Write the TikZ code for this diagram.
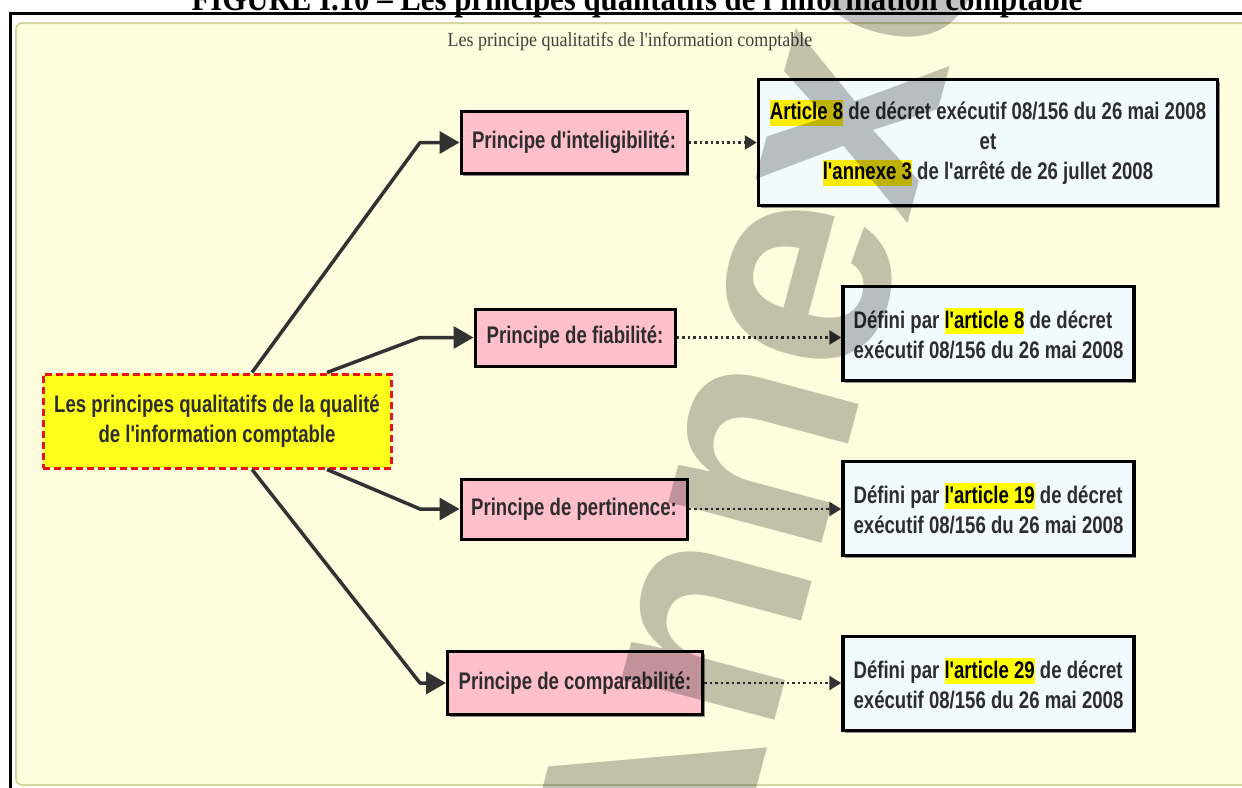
\documentclass[tikz,border=0pt]{standalone}
\usepackage{fontspec}
\setmainfont{Liberation Sans}
\newfontfamily\boxfont{Liberation Sans}[FakeStretch=0.775]
\newfontfamily\serifnar{Liberation Serif}[FakeStretch=0.9]
\newfontfamily\titlefont{Liberation Serif}[FakeStretch=0.88]
\usetikzlibrary{arrows.meta,shadows,calc}
\definecolor{cPanel}{RGB}{255,253,222}
\definecolor{cPanelBd}{RGB}{214,214,160}
\definecolor{cPink}{RGB}{255,192,203}
\definecolor{cBlue}{RGB}{240,250,255}
\definecolor{cRoot}{RGB}{255,255,30}
\definecolor{cRootBd}{RGB}{230,20,20}
\definecolor{cLine}{RGB}{50,50,50}
\definecolor{cTxt}{RGB}{45,45,45}
\definecolor{cHl}{RGB}{255,255,0}
\definecolor{cHlA}{RGB}{250,235,10}
\newcommand\hlt[2][cHl]{{\setlength\fboxsep{0pt}\colorbox{#1}{\rule[-6pt]{0pt}{26pt}\color{black}#2}}}
\tikzset{
  boxtext/.style={font=\boxfont\bfseries\fontsize{24}{30}\selectfont, text=cTxt, inner sep=0pt, align=center},
  pinkbox/.style={boxtext, draw=black, line width=3pt, fill=cPink,
    drop shadow={shadow xshift=2pt, shadow yshift=-2pt, fill=black!45, opacity=1}},
  bluebox/.style={boxtext, draw=black, line width=3.5pt, fill=cBlue,
    drop shadow={shadow xshift=2pt, shadow yshift=-2pt, fill=black!45, opacity=1}},
  rootbox/.style={boxtext, draw=cRootBd, line width=3pt, dash pattern=on 7pt off 4pt, fill=cRoot},
  conn/.style={draw=cLine, line width=3.5pt, line join=round, -{Triangle[length=20pt,width=22pt]}},
  dotconn/.style={draw=cLine, line width=2.5pt, dash pattern=on 2.5pt off 3pt, -{Triangle[length=12pt,width=14pt]}}
}
\begin{document}
\begin{tikzpicture}[x=1pt,y=-1pt]
\useasboundingbox (0,0) rectangle (1242,787);
\clip (0,0) rectangle (1242,787);
% title (cut off)
\node[font=\titlefont\bfseries\fontsize{35}{40}\selectfont, anchor=base, inner sep=0pt] (title) at (637,10) {FIGURE I.10 – Les principes qualitatifs de l'information comptable};
% frame and panel
\draw[line width=3pt] (10,800) -- (10,13.5) -- (1260,13.5);
\draw[fill=cPanel, draw=cPanelBd, line width=2pt, rounded corners=6pt] (16,23) rectangle (1270,785);
\node[font=\serifnar\fontsize{20}{24}\selectfont, text=black!75, anchor=base, inner sep=0pt] (ptitle) at (630,46) {Les principe qualitatifs de l'information comptable};
% root
\node[rootbox, minimum width=348, minimum height=94] (root) at (217,421) {Les principes qualitatifs de la qualité\\de l'information comptable};
% principles
\node[pinkbox, minimum width=226, minimum height=62] (p1) at (574,142.5) {Principe d'inteligibilité:};
\node[pinkbox, minimum width=200, minimum height=57] (p2) at (575,337.5) {Principe de fiabilité:};
\node[pinkbox, minimum width=226, minimum height=60] (p3) at (574,509) {Principe de pertinence:};
\node[pinkbox, minimum width=255, minimum height=63] (p4) at (575,683) {Principe de comparabilité:};
% references
\node[bluebox, minimum width=459, minimum height=126] (r1) at (988,142.5) {\hlt[cHlA]{Article 8} de décret exécutif 08/156 du 26 mai 2008\\et\\\hlt[cHlA]{l'annexe 3} de l'arrêté de 26 jullet 2008};
\node[bluebox, minimum width=291, minimum height=94, align=left] (r2) at (988.5,333.5) {Défini par \hlt{l'article 8} de décret\\exécutif 08/156 du 26 mai 2008};
\node[bluebox, minimum width=291, minimum height=94, align=left] (r3) at (988.5,508.5) {Défini par \hlt{l'article 19} de décret\\exécutif 08/156 du 26 mai 2008};
\node[bluebox, minimum width=291, minimum height=94, align=left] (r4) at (988.5,683.5) {Défini par \hlt{l'article 29} de décret\\exécutif 08/156 du 26 mai 2008};
% connectors
\coordinate (bx) at (420,0);
\draw[conn] ([xshift=35pt]root.north) -- (p1.west -| bx) -- (p1.west);
\draw[conn] ([xshift=110pt]root.north) -- (p2.west -| bx) -- (p2.west);
\draw[conn] ([xshift=110pt]root.south) -- (p3.west -| bx) -- (p3.west);
\draw[conn] ([xshift=35pt]root.south) -- (p4.west -| bx) -- (p4.west);
\draw[dotconn] (p1.east) -- (p1.east -| r1.west);
\draw[dotconn] (p2.east) -- (p2.east -| r2.west);
\draw[dotconn] (p3.east) -- (p3.east -| r3.west);
\draw[dotconn] (p4.east) -- (p4.east -| r4.west);
% watermark
\node[font=\bfseries\fontsize{300}{300}\selectfont, text=black, opacity=0.24, rotate=75, inner sep=0pt] (wm) at (755,400) {Annexe};
\end{tikzpicture}
\end{document}
